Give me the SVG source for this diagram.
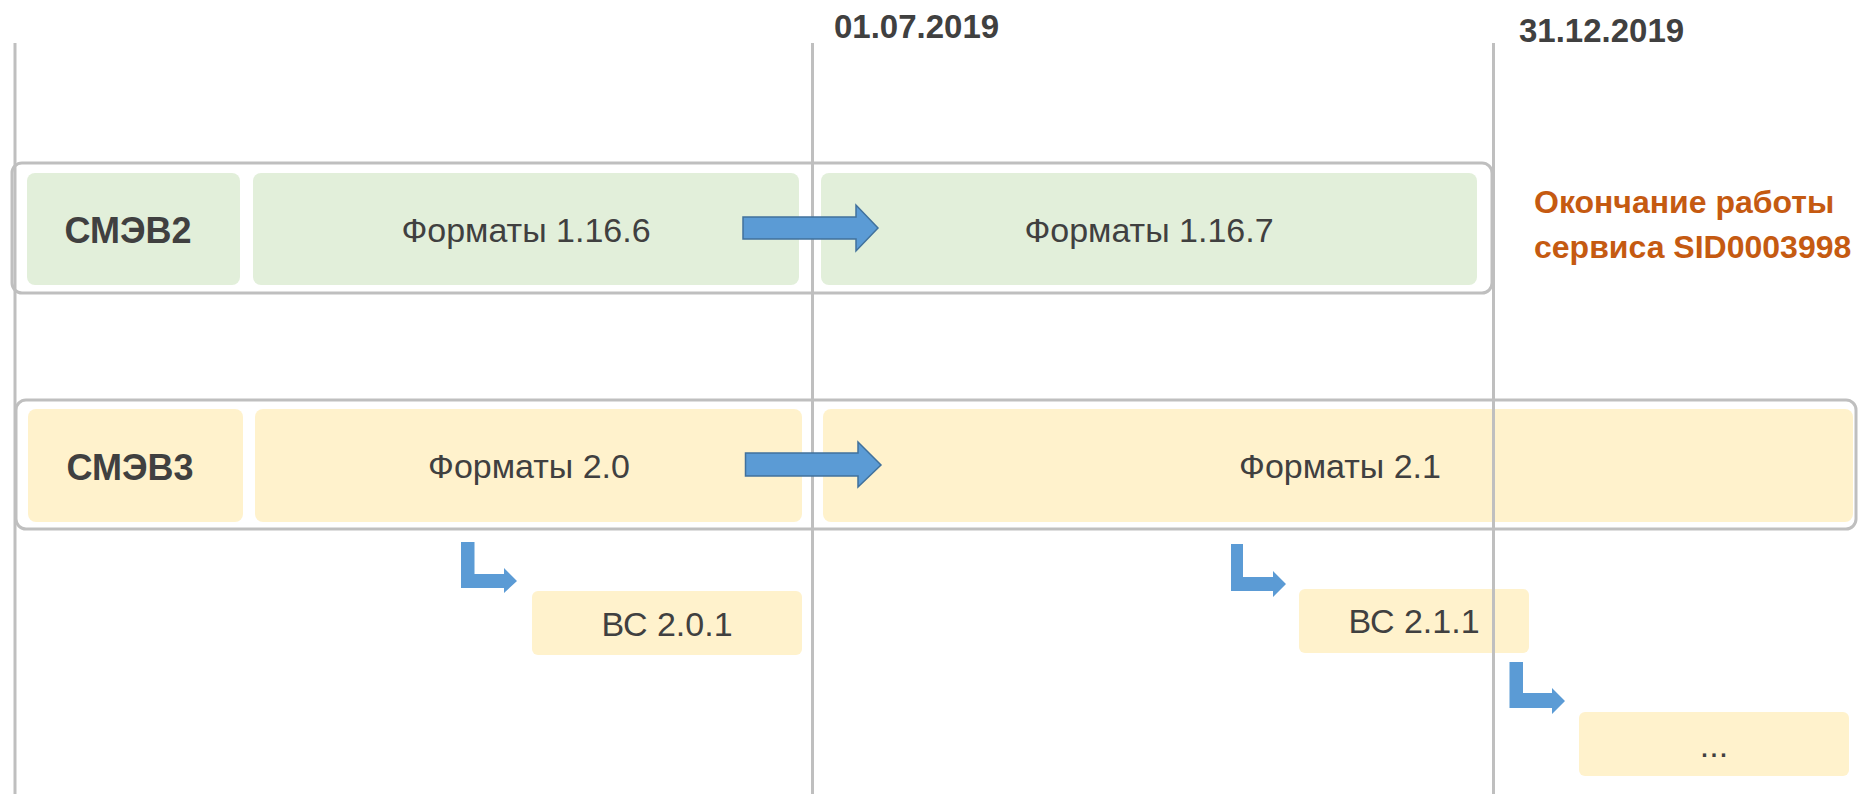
<svg xmlns="http://www.w3.org/2000/svg" width="1860" height="794" viewBox="0 0 1860 794">
<style>
.frame{fill:#ffffff;stroke:#bfbfbf;stroke-width:3}
.g{fill:#e2efda}
.y{fill:#fff2cc}
.vl{stroke:#bfbfbf;stroke-width:3;fill:none}
.t{font-family:"Liberation Sans",Arial,sans-serif;fill:#404040;text-anchor:middle}
.b{font-weight:bold}
.date{font-family:"Liberation Sans",Arial,sans-serif;font-weight:bold;fill:#404040;font-size:33px}
.note{font-family:"Liberation Sans",Arial,sans-serif;font-weight:bold;fill:#c55a11;font-size:32px}
.arr{fill:#5b9bd5;stroke:#41719c;stroke-width:1.5}
.bent{fill:#5b9bd5}
</style>
<rect width="1860" height="794" fill="#ffffff"/>
<g id="frame-smev2"><rect class="frame" x="12" y="163" width="1480" height="130" rx="10"/></g>
<g id="frame-smev3"><rect class="frame" x="16" y="400" width="1840" height="129" rx="10"/></g>
<g id="smev2"><rect class="g" x="27" y="173" width="213" height="112" rx="8"/><text class="t b" x="128" y="243" font-size="36">СМЭВ2</text></g>
<g id="f1166"><rect class="g" x="253" y="173" width="546" height="112" rx="8"/><text class="t" x="526" y="242" font-size="34">Форматы 1.16.6</text></g>
<g id="f1167"><rect class="g" x="821" y="173" width="656" height="112" rx="8"/><text class="t" x="1149" y="242" font-size="34">Форматы 1.16.7</text></g>
<g id="smev3"><rect class="y" x="28" y="409" width="215" height="113" rx="8"/><text class="t b" x="130" y="480" font-size="36">СМЭВ3</text></g>
<g id="f20"><rect class="y" x="255" y="409" width="547" height="113" rx="8"/><text class="t" x="529" y="478" font-size="34">Форматы 2.0</text></g>
<g id="f21"><rect class="y" x="823" y="409" width="1030" height="113" rx="8"/><text class="t" x="1340" y="478" font-size="34">Форматы 2.1</text></g>
<g id="bc201"><rect class="y" x="532" y="591" width="270" height="64" rx="6"/><text class="t" x="667" y="636" font-size="34">ВС 2.0.1</text></g>
<g id="bc211"><rect class="y" x="1299" y="589" width="230" height="64" rx="6"/><text class="t" x="1414" y="633" font-size="34">ВС 2.1.1</text></g>
<g id="more"><rect class="y" x="1579" y="712" width="270" height="64" rx="6"/><text class="t" x="1714" y="757" font-size="34">...</text></g>
<g id="timeline">
<line class="vl" x1="15" y1="43" x2="15" y2="794"/>
<line class="vl" x1="812.5" y1="43" x2="812.5" y2="794"/>
<line class="vl" x1="1493.5" y1="43" x2="1493.5" y2="794"/>
</g>
<g id="dates">
<text class="date" x="834" y="38">01.07.2019</text>
<text class="date" x="1519" y="42">31.12.2019</text>
</g>
<g id="note">
<text class="note" x="1534" y="213">Окончание работы</text>
<text class="note" x="1534" y="258">сервиса SID0003998</text>
</g>
<g id="connectors">
<polygon class="arr" points="743,217 856,217 856,205 878,228 856,251 856,239 743,239"/>
<polygon class="arr" points="745.5,453 858,453 858,442 881,465 858,487 858,476 745.5,476"/>
<polygon class="bent" points="461,542 474.5,542 474.5,574 504,574 504,568 517,581 504,593 504,588 461,588"/>
<polygon class="bent" points="1231,544 1243,544 1243,577 1273,577 1273,571 1286,584 1273,597 1273,591 1231,591"/>
<polygon class="bent" points="1509.5,662 1523,662 1523,693 1552,693 1552,688 1565,701 1552,714 1552,708 1509.5,708"/>
</g>
</svg>
